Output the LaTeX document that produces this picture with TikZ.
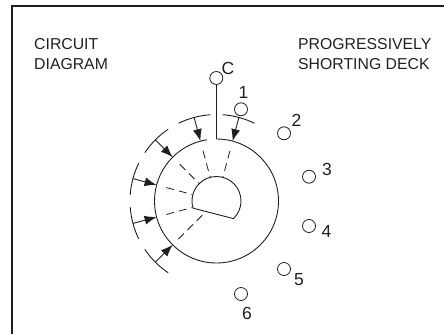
\documentclass[tikz,border=0pt]{standalone}
\usepackage{fontspec}
\setmainfont{Liberation Sans}
\usetikzlibrary{arrows.meta}
\definecolor{ink}{HTML}{231F20}
\tikzset{
  x=1bp,y=1bp,
  frameline/.style={draw=ink,line width=1.3bp},
  wire/.style={draw=ink,line width=0.9bp},
  dashline/.style={draw=ink,line width=0.8bp,dash pattern=on 8bp off 5bp},
  termc/.style={circle,draw=ink,line width=0.8bp,minimum size=13bp,inner sep=0pt},
  lab/.style={font=\fontsize{15.8bp}{19.5bp}\selectfont,text=ink,inner sep=0pt},
  numlab/.style={font=\fontsize{17.5bp}{20bp}\selectfont,text=ink,inner sep=0pt},
  head/.style={lab,align=left,anchor=north west},
  arr/.style={wire,-{Latex[length=12bp,width=9bp]}}
}
\begin{document}
\begin{tikzpicture}
\useasboundingbox (0,0) rectangle (444,334);
\coordinate (ctr) at (216.5,133);
% frame
\draw[frameline] (12,0) -- (12,328) -- (444,328);
% headings
\node[head] (h1) at (34,295.5) {CIRCUIT\\DIAGRAM};
\node[head] (h2) at (298,295.5) {PROGRESSIVELY\\SHORTING DECK};
% outer circle, open between wire and arc
\draw[wire] (216.5,195) coordinate (wt) arc[start angle=90,end angle=-261,radius=62];
% inner cam
\draw[wire] (ctr) ++(-46:24.5) arc[start angle=-46,end angle=197,radius=24.5] -- cycle;
% terminals
\node[termc] (tC) at (216.3,256) {};
\node[termc] (t1) at (241,224.7) {};
\node[termc] (t2) at (284,200.7) {};
\node[termc] (t3) at (309,157.3) {};
\node[termc] (t4) at (309,108) {};
\node[termc] (t5) at (284,65) {};
\node[termc] (t6) at (241,40) {};
\node[numlab] (lC) at (228,266) {C};
\node[numlab] (l1) at (243.5,242) {1};
\node[numlab] (l2) at (296.5,214) {2};
\node[numlab] (l3) at (327,165) {3};
\node[numlab] (l4) at (326.5,103) {4};
\node[numlab] (l5) at (299,54.5) {5};
\node[numlab] (l6) at (247,21) {6};
% common wire
\draw[wire] (tC) -- (216.3,194.8);
% contacts
\foreach \a/\s/\e in {75/52/25,105/52/25,135/52/25,165/52/25,195/52/25,225/54/18.5}{
  \draw[wire] (ctr) ++(\a+11:86.5) arc[start angle=\a+11,end angle=\a-11,radius=86.5];
  \draw[arr] (ctr) ++(\a:86.5) -- ++(\a+180:24.5);
  \draw[dashline] (ctr) ++(\a:\s) -- ++(\a+180:\s-\e);
}
\end{tikzpicture}
\end{document}
